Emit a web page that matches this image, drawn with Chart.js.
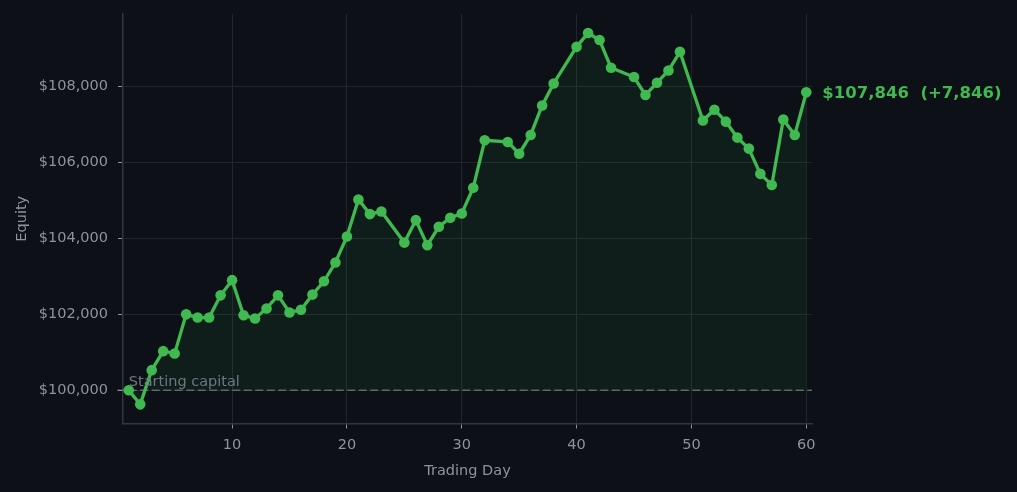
<!DOCTYPE html>
<html>
<head>
<meta charset="utf-8">
<script src="https://cdn.jsdelivr.net/npm/chart.js@4"></script>
<style>
  html, body { margin: 0; padding: 0; background: #0d1117; }
  #wrap { width: 1017px; height: 492px; }
</style>
</head>
<body>
<div id="wrap"><canvas id="equityChart" width="1017" height="492"></canvas></div>
<script>
// trading days (some days have no entry)
const days = [1, 2, 3, 4, 5, 6, 7, 8, 9, 10, 11, 12, 13, 14, 15, 16, 17, 18, 19, 20, 21, 22, 23,
  25, 26, 27, 28, 29, 30, 31, 32,
  34, 35, 36, 37, 38,
  40, 41, 42, 43,
  45, 46, 47, 48, 49,
  51, 52, 53, 54, 55, 56, 57, 58, 59, 60];
const equity = [100000, 99630, 100530, 101030, 100970, 102000, 101915, 101915, 102500, 102900,
  101975, 101890, 102155, 102500, 102050, 102120, 102520, 102870, 103365, 104050,
  105025, 104640, 104710,
  103890, 104480, 103820, 104305, 104545, 104655, 105335, 106585,
  106540, 106230, 106725, 107500, 108080,
  109045, 109410, 109225, 108495,
  108250, 107775, 108100, 108420, 108915,
  107105, 107390, 107075, 106655, 106365, 105700, 105405, 107130, 106725, 107846];
const startCapital = 100000;
const baselineDays = [0, 60.5];
const xTicks = [10, 20, 30, 40, 50, 60];
const yTicks = [100000, 102000, 104000, 106000, 108000];

const green = '#3fb950';
const tickGrey = '#8b949e';
const fontFamily = '"DejaVu Sans", sans-serif';

const fmt = v => v.toLocaleString('en-US');

let ctx = document.getElementById('equityChart').getContext('2d');

// text labels: "Starting capital" + final value at the last point
const labelsPlugin = {
  id: 'labels',
  afterDatasetsDraw(chart) {
    const xs = chart.scales.x, ys = chart.scales.y;
    const c = chart.ctx;
    c.save();
    c.font = '14.5px ' + fontFamily;
    c.fillStyle = '#6e7681';
    c.textAlign = 'left';
    c.textBaseline = 'bottom';
    c.fillText('Starting capital', xs.getPixelForValue(days[0]), ys.getPixelForValue(startCapital) - 1);

    const last = equity[equity.length - 1];
    const diff = last - startCapital;
    c.font = 'bold 16.5px ' + fontFamily;
    c.fillStyle = green;
    c.textBaseline = 'middle';
    c.fillText('$' + fmt(last) + '  (' + (diff >= 0 ? '+' : '') + fmt(diff) + ')',
      xs.getPixelForValue(days[days.length - 1]) + 16, ys.getPixelForValue(last) + 1);
    c.restore();
  }
};

var chartEquity = new Chart(ctx, {
  type: 'line',
  data: {
    datasets: [{
      data: days.map((d, i) => ({ x: d, y: equity[i] })),
      borderColor: green,
      borderWidth: 3.3,
      backgroundColor: 'rgba(63, 185, 80, 0.08)',
      fill: { value: startCapital },
      pointRadius: 5.3,
      pointBorderWidth: 0,
      pointBackgroundColor: green,
      tension: 0,
      order: 0
    }, {
      // starting capital reference line
      data: baselineDays.map(d => ({ x: d, y: startCapital })),
      borderColor: 'rgba(139, 148, 158, 0.6)',
      borderWidth: 1.6,
      borderDash: [8, 3.5],
      pointRadius: 0,
      fill: false,
      clip: false,
      order: 1
    }]
  },
  options: {
    responsive: false,
    animation: false,
    events: [],
    layout: { padding: { left: 0, top: 14, right: 205, bottom: 0 } },
    plugins: {
      legend: { display: false },
      tooltip: { enabled: false }
    },
    scales: {
      x: {
        type: 'linear',
        min: 0.5,
        max: 60.5,
        afterBuildTicks: s => { s.ticks = xTicks.map(v => ({ value: v })); },
        afterFit: s => { s.height = 68.5; },
        grid: { color: '#21262d', lineWidth: 1, tickLength: 5, tickColor: tickGrey },
        border: { color: '#30363d', width: 1.5 },
        ticks: { color: tickGrey, font: { family: fontFamily, size: 14.5 }, padding: 8, maxRotation: 0 },
        title: { display: true, text: 'Trading Day', color: tickGrey, font: { family: fontFamily, size: 14.5 }, padding: { top: 0, bottom: 12 } }
      },
      y: {
        min: 99125,
        max: 109910,
        afterBuildTicks: s => { s.ticks = yTicks.map(v => ({ value: v })); },
        afterFit: s => { s.width = 123; s.paddingTop = 0; s.paddingBottom = 0; },
        grid: { color: '#21262d', lineWidth: 1, tickLength: 5, tickColor: tickGrey },
        border: { color: '#30363d', width: 1.5 },
        ticks: {
          color: tickGrey,
          font: { family: fontFamily, size: 14.5 },
          padding: 10,
          callback: v => '$' + fmt(v)
        },
        title: { display: true, text: 'Equity', color: tickGrey, font: { family: fontFamily, size: 14.5 }, padding: { top: 14, bottom: 0 } }
      }
    }
  },
  plugins: [labelsPlugin]
});
</script>
</body>
</html>
